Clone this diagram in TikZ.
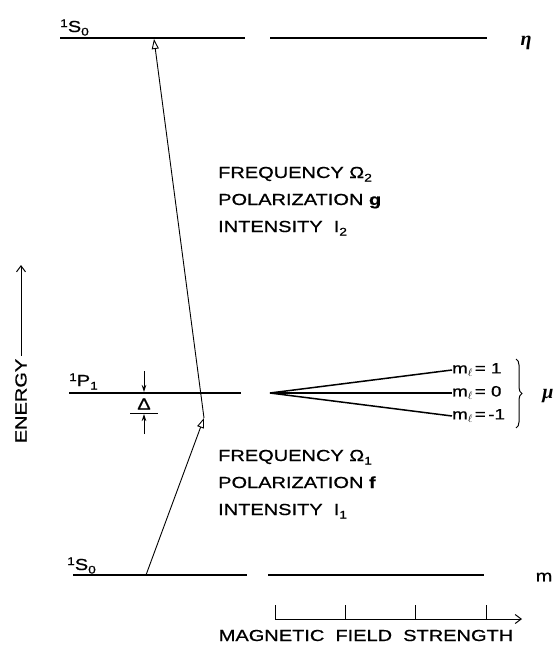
\documentclass[tikz,border=0pt]{standalone}
\usepackage{fontspec}
\setmainfont{Liberation Sans}[FakeStretch=1.25,FakeBold=0.8]
\newfontfamily\grkfont{Liberation Serif}
\usetikzlibrary{arrows.meta,decorations.pathreplacing}
\newcommand{\lowsub}[1]{\raisebox{-3.5pt}{\fontsize{11}{11}\selectfont #1}}
\newcommand{\highsup}[1]{\raisebox{5pt}{\fontsize{11}{11}\selectfont #1}}
\begin{document}
\begin{tikzpicture}[x=1pt,y=-1pt,
  levelline/.style={line width=2pt},
  zeeman/.style={line width=1.5pt},
  trans/.style={line width=0.9pt,-{Triangle[open,length=10pt,width=7pt]}},
  deltaarrow/.style={line width=0.9pt,-{Stealth[length=7pt,width=4.5pt]}},
  axisline/.style={line width=1pt},
  lbl/.style={font=\fontsize{16}{16}\selectfont, inner sep=0pt},
  grk/.style={font=\fontsize{20}{20}\grkfont\bfseries\itshape, inner sep=0pt},
  small/.style={font=\fontsize{15}{15}\selectfont, inner sep=0pt}]
\useasboundingbox (0,0) rectangle (556,645);

% level endpoints
\coordinate (TL1) at (60,38);  \coordinate (TL2) at (245,38);
\coordinate (TR1) at (270,38); \coordinate (TR2) at (487,38);
\coordinate (PL1) at (69,393); \coordinate (PL2) at (241,393);
\coordinate (Z0) at (270,393);
\coordinate (Z1) at (452,370); \coordinate (Zm) at (452,393); \coordinate (Z2) at (452,416);
\coordinate (GL1) at (73,575); \coordinate (GL2) at (247,575);
\coordinate (GR1) at (268,575); \coordinate (GR2) at (484,575);

\draw[levelline] (TL1) -- (TL2);
\draw[levelline] (TR1) -- (TR2);
\draw[levelline] (PL1) -- (PL2);
\draw[levelline] (GL1) -- (GL2);
\draw[levelline] (GR1) -- (GR2);
\draw[zeeman] (Z0) -- (Z1);
\draw[zeeman] (Z0) -- (Zm);
\draw[zeeman] (Z0) -- (Z2);

% level labels
\node[lbl,anchor=base west] (s0top) at (60,32) {\highsup{1}S\lowsub{0}};
\node[lbl,anchor=base west] (p1) at (69,386) {\highsup{1}P\lowsub{1}};
\node[lbl,anchor=base west] (s0bot) at (67,570) {\highsup{1}S\lowsub{0}};
\node[grk] (eta) at (526,43) {η};
\node[grk] (mu) at (548,396) {μ};
\node[lbl] (mlab) at (544,577) {m};

% Zeeman labels
\node[small,anchor=west] (ml1) at (Z1) {m\lowsub{$\ell$}\,= 1};
\node[small,anchor=west] (ml0) at (Zm) {m\lowsub{$\ell$}\,= 0};
\node[small,anchor=west] (mlm) at (Z2) {m\lowsub{$\ell$}\,=\,-1};
\draw[line width=1pt,decorate,decoration={brace,amplitude=6pt}] (516,359) -- (516,428);

% transitions
\coordinate (g) at (146,575);
\coordinate (p) at (204,418);
\coordinate (t) at (154,39);
\draw[trans] (g) -- (p);
\draw[trans] (p) -- (t);

% Delta
\coordinate (da1) at (144,371); \coordinate (da2) at (144,392);
\coordinate (db1) at (144,434); \coordinate (db2) at (144,414);
\draw[deltaarrow] (da1) -- (da2);
\node[lbl] (delta) at (144,404) {Δ};
\draw[line width=1pt] (130,413) -- (158,413);
\draw[deltaarrow] (db1) -- (db2);

% texts
\node[lbl,anchor=base west] (f2) at (218,178) {FREQUENCY Ω\lowsub{2}};
\node[lbl,anchor=base west] (pg) at (218,205) {POLARIZATION \textbf{g}};
\node[lbl,anchor=base west] (i2) at (218,232) {INTENSITY \ I\lowsub{2}};
\node[lbl,anchor=base west] (f1) at (218,461) {FREQUENCY Ω\lowsub{1}};
\node[lbl,anchor=base west] (pf) at (218,488) {POLARIZATION \textbf{f}};
\node[lbl,anchor=base west] (i1) at (218,515) {INTENSITY \ I\lowsub{1}};

% energy axis
\node[lbl,rotate=90] (en) at (21,401) {ENERGY};
\coordinate (entip) at (21,265);
\draw[axisline,-{Straight Barb[length=6pt,width=9pt]}] (en.east) ++(0,-3) -- (entip);

% magnetic field axis
\coordinate (a0) at (275,619);
\coordinate (aend) at (522,619);
\draw[axisline,-{Straight Barb[length=6pt,width=9pt]}] (275,605) -- (a0) -- (aend);
\foreach \xx in {345,415,486} \draw[axisline] (\xx,605) -- (\xx,619);
\node[lbl,anchor=base] (mfs) at (366,641) {MAGNETIC \ FIELD \ STRENGTH};
\end{tikzpicture}
\end{document}
